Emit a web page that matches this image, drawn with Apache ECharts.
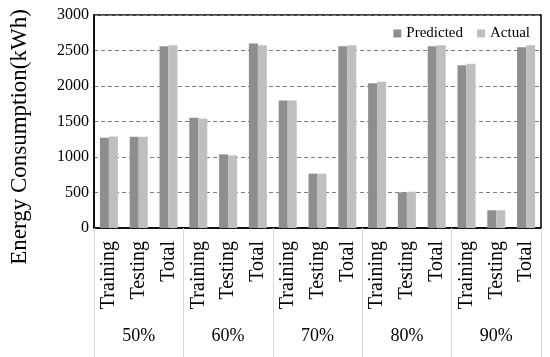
<!DOCTYPE html>
<html>
<head>
<meta charset="utf-8">
<script src="https://cdn.jsdelivr.net/npm/echarts@6/dist/echarts.min.js"></script>
<style>html,body{margin:0;padding:0;background:#fff}#c{width:550px;height:357px}</style>
</head>
<body>
<div id="c"></div>
<script>
var categories = ['Training','Testing','Total','Training','Testing','Total','Training','Testing','Total','Training','Testing','Total','Training','Testing','Total'];
var groups = ['50%','60%','70%','80%','90%'];
var predicted = [1271,1285,2561, 1553,1037,2598, 1796,765,2561, 2040,502,2561, 2294,249,2547];
var actual = [1290,1285,2575, 1543,1023,2575, 1796,765,2575, 2059,511,2575, 2312,249,2575];
var yTicks = {min:0, max:3000, interval:500};

var FONT = 'Liberation Serif';
var chart = echarts.init(document.getElementById('c'));
chart.setOption({
  animation:false,
  textStyle:{fontFamily:FONT},
  legend:{
    data:['Predicted','Actual'], right:15, top:21, itemWidth:8, itemHeight:8, itemGap:14,
    icon:'rect', textStyle:{fontFamily:FONT, fontSize:15, color:'#000'}
  },
  grid:{left:90, right:9, top:15, bottom:129, show:true, borderColor:'#000', borderWidth:1.5, containLabel:false},
  xAxis:[{
    type:'category', data:categories, position:'bottom',
    axisLine:{lineStyle:{color:'#000', width:1.5}},
    axisTick:{show:false},
    axisLabel:{rotate:90, interval:0, margin:13, fontFamily:FONT, fontSize:20, color:'#000'}
  },{
    type:'category', data:groups, position:'bottom', offset:0,
    axisLine:{show:false},
    axisTick:{show:true, length:129, interval:0, lineStyle:{color:'#d9d9d9', width:1}},
    axisLabel:{interval:0, margin:99, fontFamily:FONT, fontSize:18, color:'#000'}
  }],
  yAxis:{
    type:'value', min:yTicks.min, max:yTicks.max, interval:yTicks.interval,
    name:'Energy Consumption(kWh)', nameLocation:'middle', nameGap:63,
    nameTextStyle:{fontFamily:FONT, fontSize:23, color:'#000', padding:[0,31,0,0]},
    axisLine:{show:true, lineStyle:{color:'#000', width:1.5}},
    axisTick:{show:false},
    axisLabel:{margin:5, fontFamily:FONT, fontSize:16, color:'#000', formatter:function(v){return String(v);}},
    splitLine:{lineStyle:{color:'#7f7f7f', type:[4,3], width:1}}
  },
  series:[
    {name:'Predicted', type:'bar', data:predicted, barWidth:9, barGap:'0%', itemStyle:{color:'#8e8e8e'}},
    {name:'Actual', type:'bar', data:actual, barWidth:9, barGap:'0%', itemStyle:{color:'#bfbfbf'}}
  ]
});
</script>
</body>
</html>
